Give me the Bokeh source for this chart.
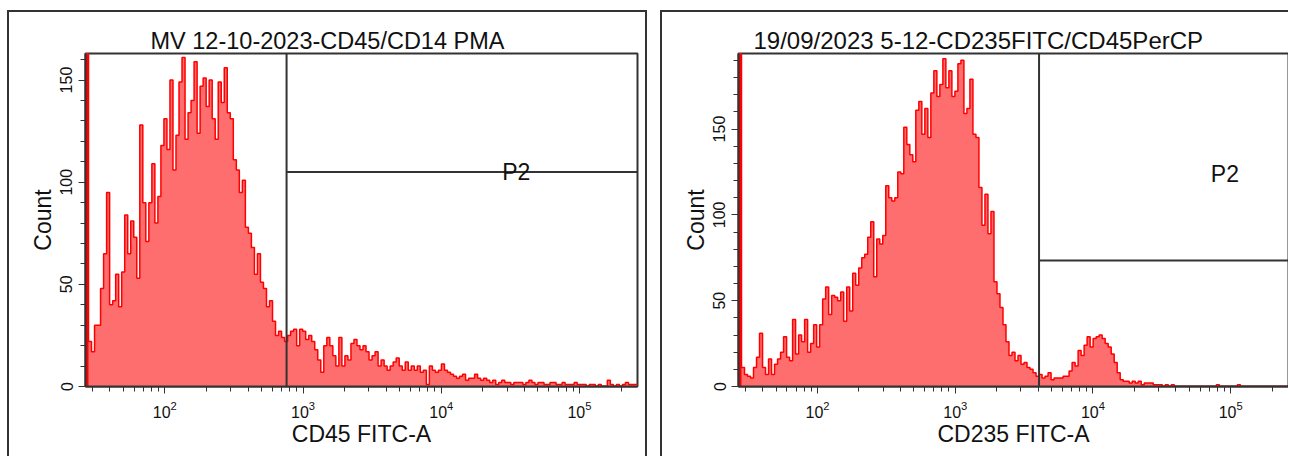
import numpy as np
from bokeh.plotting import figure
from bokeh.layouts import row
from bokeh.models import FixedTicker, Range1d
from bokeh.embed import file_html
from bokeh.resources import INLINE
from bokeh.core.properties import value

# ---------------- data ----------------
LOG_LO = 1.426          # log10 of axis minimum
LOG_HI = 5.42           # log10 of axis maximum (262144)
N_BINS = 183

titles = ["MV 12-10-2023-CD45/CD14 PMA", "19/09/2023 5-12-CD235FITC/CD45PerCP"]
x_labels = ["CD45 FITC-A", "CD235 FITC-A"]
y_label = "Count"
gate_name = "P2"

counts_cd45 = [
    400, 22, 17, 30, 30, 48, 65, 95, 40, 42, 55, 39, 56, 84, 65, 81, 73, 53, 128, 90,
    71, 90, 109, 80, 93, 118, 131, 116, 150, 106, 123, 149, 161, 121, 134, 140, 159, 124, 147, 151,
    137, 150, 131, 121, 149, 139, 156, 134, 131, 111, 106, 95, 101, 78, 75, 68, 55, 65, 51, 48,
    39, 42, 32, 25, 27, 24, 22, 25, 27, 28, 20, 28, 27, 23, 25, 22, 18, 13, 7, 20,
    24, 20, 15, 10, 24, 10, 15, 13, 21, 23, 20, 18, 20, 17, 13, 15, 17, 10, 13, 10,
    8, 10, 12, 14, 10, 8, 12, 8, 10, 8, 10, 7, 8, 1, 10, 8, 7, 8, 11, 8,
    7, 6, 5, 4, 5, 6, 3, 4, 4, 6, 4, 3, 4, 3, 2, 3, 1, 2, 3, 2,
    2, 1, 2, 2, 2, 1, 2, 3, 2, 1, 2, 2, 1, 1, 2, 2, 1, 1, 2, 1,
    1, 1, 2, 1, 1, 1, 0, 1, 1, 0, 1, 0, 0, 3, 1, 0, 1, 0, 1, 2,
    1, 1, 1,
]
counts_cd235 = [
    400, 11, 7, 6, 5, 11, 17, 31, 11, 7, 16, 7, 13, 16, 20, 29, 17, 15, 39, 19,
    30, 26, 39, 20, 25, 36, 23, 36, 51, 58, 42, 53, 52, 50, 55, 38, 58, 44, 66, 59,
    69, 75, 77, 87, 96, 64, 86, 83, 88, 117, 110, 108, 110, 125, 124, 151, 141, 135, 131, 161,
    166, 147, 162, 145, 171, 184, 169, 176, 191, 174, 184, 169, 172, 188, 190, 159, 162, 179, 147, 145,
    116, 94, 112, 89, 102, 61, 54, 46, 36, 26, 18, 20, 15, 18, 13, 14, 11, 10, 8, 6,
    7, 5, 6, 8, 4, 5, 5, 5, 6, 6, 9, 14, 12, 21, 18, 24, 29, 23, 28, 29,
    30, 28, 25, 23, 19, 14, 8, 4, 3, 3, 2, 3, 2, 3, 1, 2, 2, 2, 1, 1,
    1, 0, 1, 0, 1, 0, 0, 0, 0, 0, 0, 0, 0, 0, 0, 0, 0, 0, 0, 1,
    0, 0, 0, 0, 0, 0, 1, 0, 0, 0, 0, 0, 0, 0, 0, 0, 0, 0, 0, 0,
    0, 0, 0,
]
y_max = [163, 194]
gate_x = [760, 4060]
gate_y = [105, 73.4]
gate_label_x = [34900, 90800]
gate_label_y = [105, 124]
x_major_ticks = [1e2, 1e3, 1e4, 1e5]
y_major_ticks = [0, 50, 100, 150]
y_minor_ticks = list(range(10, 200, 10))

# ---------------- style ----------------
FONT = "Liberation Sans"
FILL = "#ff6e6e"
LINE = "#ff0000"
DARK = "#333333"


def make_panel(title, xlabel, counts, ymax, gx, gy, lx, ly, title_offset, title_size,
               right_border, borders):
    edges = np.logspace(LOG_LO, LOG_HI, N_BINS + 1)
    xs = edges
    ys = list(counts) + [counts[-1]]
    p = figure(x_axis_type="log",
               x_range=Range1d(10 ** LOG_LO, 10 ** LOG_HI),
               y_range=Range1d(0, ymax),
               frame_width=548, frame_height=331,
               min_border_left=76, min_border_right=right_border,
               min_border_top=41, min_border_bottom=72,
               output_backend="svg", toolbar_location=None)
    p.styles = borders
    p.background_fill_color = "white"
    p.border_fill_color = "white"
    p.outline_line_color = DARK
    p.outline_line_width = 2
    p.xgrid.visible = False
    p.ygrid.visible = False

    p.varea_step(x=xs, y1=np.zeros(len(xs)), y2=ys, step_mode="after", fill_color=FILL)
    # off-scale (first) bin pile-up drawn solid
    p.quad(left=[edges[0]], right=[edges[1]], bottom=[0], top=[counts[0]],
           fill_color=LINE, line_color=None)
    p.step(x=xs, y=ys, mode="after", line_color=LINE, line_width=1.5)

    xhi = 10 ** LOG_HI
    p.segment(x0=[gx, gx], y0=[0, gy], x1=[gx, xhi], y1=[ymax, gy],
              line_color=DARK, line_width=2)
    p.text(x=[lx], y=[ly], text=[gate_name], text_align="center", text_baseline="middle",
           text_font=value(FONT), text_font_size="23px", text_color="#111111")

    minor = [m * 10 ** e for e in range(1, 6) for m in range(2, 10)]
    p.xaxis.ticker = FixedTicker(ticks=x_major_ticks, minor_ticks=minor)
    p.yaxis.ticker = FixedTicker(ticks=y_major_ticks, minor_ticks=y_minor_ticks)
    for ax in (p.xaxis[0], p.yaxis[0]):
        ax.axis_line_color = DARK
        ax.axis_line_width = 2
        ax.major_tick_line_color = DARK
        ax.minor_tick_line_color = DARK
        ax.major_tick_in = 0
        ax.minor_tick_in = 0
        ax.major_tick_out = 7
        ax.minor_tick_out = 5
        ax.major_label_text_font = FONT
        ax.major_label_text_font_size = "16px"
        ax.major_label_text_color = "#111111"
        ax.axis_label_text_font = FONT
        ax.axis_label_text_font_size = "23px"
        ax.axis_label_text_font_style = "normal"
        ax.axis_label_text_color = "#111111"
    p.yaxis.major_label_orientation = "vertical"
    p.xaxis.axis_label = xlabel
    p.yaxis.axis_label = y_label
    p.xaxis.major_label_standoff = 7
    p.yaxis.major_label_standoff = 6
    p.xaxis.axis_label_standoff = 0
    p.yaxis.axis_label_standoff = 2

    p.title.text = title
    p.title.align = "left"
    p.title.offset = title_offset
    p.title.text_font = FONT
    p.title.text_font_size = title_size
    p.title.text_font_style = "normal"
    p.title.text_color = "#111111"
    p.title.standoff = 0
    return p


b1 = {"border-left": "2px solid #333", "border-top": "2px solid #333",
      "border-right": "2px solid #333", "margin-top": "10px", "margin-left": "7px"}
b2 = {"border-left": "2px solid #333", "border-top": "2px solid #333", "margin-top": "10px"}

p1 = make_panel(titles[0], x_labels[0], counts_cd45, y_max[0], gate_x[0], gate_y[0],
                gate_label_x[0], gate_label_y[0], 65, "23.5px", 12, b1)
p2 = make_panel(titles[1], x_labels[1], counts_cd235, y_max[1], gate_x[1], gate_y[1],
                gate_label_x[1], gate_label_y[1], 15, "24px", 2, b2)

layout = row(p1, p2, spacing=13)
open("out.html", "w").write(file_html(layout, INLINE))
